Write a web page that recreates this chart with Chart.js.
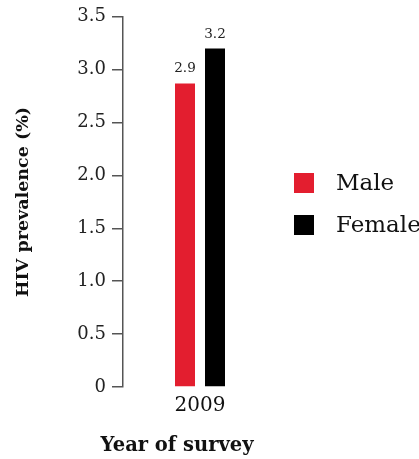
<!DOCTYPE html>
<html>
<head>
<meta charset="utf-8">
<script src="https://cdn.jsdelivr.net/npm/chart.js@4"></script>
<style>
  html, body { margin: 0; padding: 0; background: #fff; }
</style>
</head>
<body>
<canvas id="hivChart" width="419" height="459"></canvas>
<script>
// data
const years = ['2009'];
const maleValues = [2.87];
const femaleValues = [3.2];
const seriesNames = ['Male', 'Female'];
const seriesColors = ['#e31e2f', '#000000'];
const yTicks = [0, 0.5, 1.0, 1.5, 2.0, 2.5, 3.0, 3.5];

Chart.defaults.font.family = '"DejaVu Serif", serif';
Chart.defaults.color = '#111';

// numbers above the bars
const valueLabels = {
    id: 'valueLabels',
    afterDatasetsDraw(chart) {
        const ctx = chart.ctx;
        ctx.save();
        ctx.font = '13.5px "DejaVu Serif"';
        ctx.fillStyle = '#222';
        ctx.textAlign = 'center';
        ctx.textBaseline = 'alphabetic';
        chart.data.datasets.forEach((ds, i) => {
            chart.getDatasetMeta(i).data.forEach((bar, j) => {
                ctx.fillText(ds.data[j].toFixed(1), bar.x, bar.y - 11);
            });
        });
        ctx.restore();
    }
};

// legend on the right + x title
const sideLegend = {
    id: 'sideLegend',
    afterDraw(chart) {
        const {ctx, chartArea} = chart;
        ctx.save();
        ctx.font = '23px "DejaVu Serif"';
        ctx.textBaseline = 'middle';
        chart.data.datasets.forEach((ds, i) => {
            const x = chartArea.right + 17;
            const y = 173 + i * 42;
            ctx.fillStyle = ds.backgroundColor;
            ctx.fillRect(x, y, 20, 20);
            ctx.fillStyle = '#111';
            ctx.fillText(ds.label, x + 42, y + 11);
        });
        ctx.font = 'bold 19.5px "DejaVu Serif"';
        ctx.textAlign = 'center';
        ctx.textBaseline = 'alphabetic';
        ctx.fillStyle = '#111';
        ctx.fillText('Year of survey', (chartArea.left + chartArea.right) / 2 - 23, 451);
        ctx.restore();
    }
};

const ctxHiv = document.getElementById('hivChart').getContext('2d');
const hivChart = new Chart(ctxHiv, {
    type: 'bar',
    data: {
        labels: years,
        datasets: [{
            label: seriesNames[0],
            data: maleValues,
            backgroundColor: seriesColors[0],
            borderWidth: 0
        }, {
            label: seriesNames[1],
            data: femaleValues,
            backgroundColor: seriesColors[1],
            borderWidth: 0
        }]
    },
    options: {
        responsive: false,
        animation: false,
        categoryPercentage: 60 / 154,
        barPercentage: 2 / 3,
        layout: { padding: { left: 9, right: 142, top: 16, bottom: 0 } },
        plugins: {
            legend: { display: false },
            tooltip: { enabled: false }
        },
        scales: {
            x: {
                grid: { display: false, drawTicks: false },
                border: { display: false },
                ticks: { font: { size: 20 }, color: '#111', padding: 7 },
                afterFit: s => { s.height = 72; }
            },
            y: {
                min: 0,
                max: 3.5,
                afterBuildTicks: s => { s.ticks = yTicks.map(v => ({ value: v })); },
                afterFit: s => { s.width = 114; },
                ticks: {
                    font: { size: 18 },
                    color: '#222',
                    padding: 6,
                    callback: v => (v === 0 ? '0' : v.toFixed(1))
                },
                grid: {
                    drawOnChartArea: false,
                    tickLength: 11,
                    color: '#555',
                    lineWidth: 1.5
                },
                border: { display: true, color: '#555', width: 1.5 },
                title: {
                    display: true,
                    text: 'HIV prevalence (%)',
                    font: { size: 17.5, weight: 'bold' },
                    color: '#111',
                    padding: { top: 4, bottom: 4 }
                }
            }
        }
    },
    plugins: [valueLabels, sideLegend]
});
</script>
</body>
</html>
